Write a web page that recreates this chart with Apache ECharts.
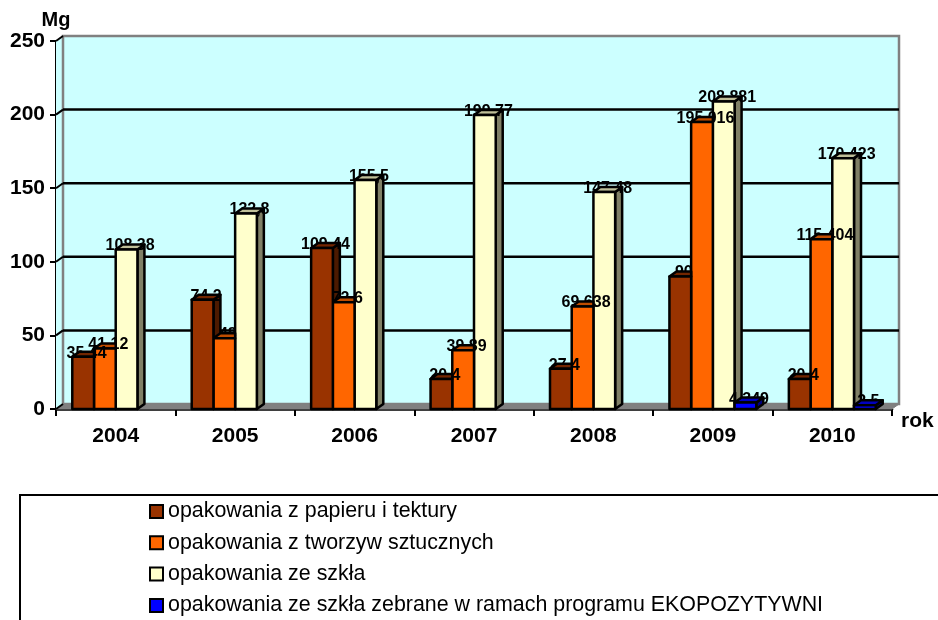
<!DOCTYPE html>
<html>
<head>
<meta charset="utf-8" />
<title>opakowania</title>
<style>
  html, body { margin: 0; padding: 0; background: #ffffff; }
  #chart { width: 938px; height: 620px; }
</style>
</head>
<body>
<div id="chart"></div>
<script src="https://cdn.jsdelivr.net/npm/echarts@6/dist/echarts.min.js"></script>
<script>
var years = ['2004', '2005', '2006', '2007', '2008', '2009', '2010'];
var yTicks = [0, 50, 100, 150, 200, 250];
var papier = [35.44, 74.2, 109.44, 20.4, 27.4, 90, 20.4];
var tworzywa = [41.12, 48, 72.6, 39.89, 69.638, 195.016, 115.404];
var szklo = [108.38, 132.8, 155.5, 199.77, 147.48, 208.881, 170.423];
var ekopozytywni = [null, null, null, null, null, 4.349, 2.5];

var seriesNames = [
  'opakowania z papieru i tektury',
  'opakowania z tworzyw sztucznych',
  'opakowania ze szkła',
  'opakowania ze szkła zebrane w ramach programu EKOPOZYTYWNI'
];
var seriesValues = [papier, tworzywa, szklo, ekopozytywni];
// front, top, side
var seriesColors = [
  ['#993300', '#732600', '#4d1a00'],
  ['#ff6600', '#bf4d00', '#803300'],
  ['#ffffcc', '#bfbf99', '#808066'],
  ['#0000ff', '#0000bf', '#000080']
];

var depthX = 7;
var depthY = 5;
var _font = '"Liberation Sans", Arial, sans-serif';

function fmt(v) {
  return String(v).replace('.', ',');
}

// back wall, floor and gridlines
function renderWall(params, api) {
  var c = params.coordSys;
  var v = api.value(0);
  var y = api.coord([0, v])[1];
  var left = c.x, right = c.x + c.width, top = c.y, bottom = c.y + c.height;
  var children = [];
  if (params.dataIndex === 0) {
    children.push({
      type: 'polygon',
      shape: { points: [[left, bottom], [left + depthX, bottom - depthY], [left + depthX, top - depthY], [left, top]] },
      style: { fill: '#ccffff', stroke: null }
    });
    children.push({
      type: 'rect',
      shape: { x: left + depthX, y: top - depthY, width: c.width, height: c.height },
      style: { fill: '#ccffff', stroke: '#808080', lineWidth: 2.5 }
    });
    children.push({
      type: 'polygon',
      shape: { points: [[left, bottom], [left + depthX, bottom - depthY], [right + depthX, bottom - depthY], [right, bottom]] },
      style: { fill: '#808080', stroke: '#808080', lineWidth: 1 }
    });
  }
  if (v > 0 && v < 250) {
    children.push({
      type: 'line',
      shape: { x1: left + depthX, y1: y - depthY, x2: right + depthX, y2: y - depthY },
      style: { stroke: '#000000', lineWidth: 2.5 }
    });
  }
  children.push({
    type: 'line',
    shape: { x1: left, y1: y, x2: left + depthX, y2: y - depthY },
    style: { stroke: '#000000', lineWidth: 2 }
  });
  return { type: 'group', children: children };
}

// paint order runs from the last series to the first, a label sits under its own bar top
function makeBarRenderer(idx) {
  var last = seriesNames.length - 1;
  // blue label stays readable on top of the glass bar next to it
  var labelZ = idx === last ? 16 : 10 + 3 * (last - idx);
  var frontZ = labelZ + 2;
  var sideZ = idx === last ? frontZ : 6 + 3 * (last - idx);
  return function (params, api) {
    var v = api.value(1);
    if (v === null || isNaN(v)) return null;
    var band = api.size([1, 0])[0];
    var w = band / 5.5;
    var x0 = api.coord([api.value(0), 0])[0] - 2 * w + idx * w;
    var yTop = api.coord([api.value(0), v])[1];
    var yBase = api.coord([api.value(0), 0])[1];
    var col = seriesColors[idx];
    var line = { stroke: '#000000', lineWidth: 2.5, lineJoin: 'round' };
    // the next bar hides the right end of the top face when it is taller
    var next = idx < last ? seriesValues[idx + 1][params.dataIndex] : null;
    var topRight = next !== null && next >= v ? x0 + w : x0 + w + depthX;
    return {
      type: 'group',
      children: [
        {
          type: 'polygon',
          z2: sideZ,
          shape: { points: [[x0 + w, yBase], [x0 + w + depthX, yBase - depthY], [x0 + w + depthX, yTop - depthY], [x0 + w, yTop]] },
          style: Object.assign({ fill: col[2] }, line)
        },
        {
          type: 'polygon',
          z2: frontZ,
          shape: { points: [[x0, yTop], [x0 + depthX, yTop - depthY], [topRight, yTop - depthY], [x0 + w, yTop]] },
          style: Object.assign({ fill: col[1] }, line)
        },
        {
          type: 'rect',
          z2: frontZ,
          shape: { x: x0, y: yTop, width: w, height: yBase - yTop },
          style: Object.assign({ fill: col[0] }, line)
        },
        {
          type: 'text',
          z2: labelZ,
          style: {
            x: x0 + w / 2 + depthX / 2,
            y: yTop - 3.5,
            text: fmt(v),
            align: 'center',
            verticalAlign: 'middle',
            font: 'bold 16px ' + _font,
            fill: '#000000'
          }
        }
      ]
    };
  };
}

var series = [{
  name: 'wall',
  type: 'custom',
  silent: true,
  z: 1,
  clip: false,
  renderItem: renderWall,
  encode: { y: 0 },
  data: yTicks.map(function (t) { return [t]; })
}];

seriesNames.forEach(function (name, i) {
  series.push({
    name: name,
    type: 'custom',
    z: 3,
    clip: false,
    renderItem: makeBarRenderer(i),
    itemStyle: { color: seriesColors[i][0], borderColor: '#000000', borderWidth: 2 },
    encode: { x: 0, y: 1 },
    data: seriesValues[i].map(function (v, j) { return [j, v]; })
  });
});

var myChart = echarts.init(document.getElementById('chart'));
myChart.setOption({
  animation: false,
  backgroundColor: '#ffffff',
  textStyle: { fontFamily: _font },
  grid: { left: 56, top: 41, width: 836, height: 368 },
  legend: {
    data: seriesNames,
    orient: 'vertical',
    left: 144,
    top: 496,
    height: 124,
    icon: 'rect',
    itemWidth: 13,
    itemHeight: 13,
    itemGap: 10.3,
    selectedMode: false,
    textStyle: { fontFamily: _font, fontSize: 21.4, color: '#000000' }
  },
  xAxis: {
    type: 'category',
    data: years,
    name: 'rok',
    nameLocation: 'end',
    nameGap: 9,
    nameTextStyle: { fontFamily: _font, fontWeight: 'bold', fontSize: 21, color: '#000000', verticalAlign: 'top', padding: [2, 0, 0, 0] },
    axisLine: { show: true, lineStyle: { color: '#000000', width: 2.5 } },
    axisTick: { show: true, alignWithLabel: false, length: 7, lineStyle: { color: '#000000', width: 2 } },
    axisLabel: { margin: 17, color: '#000000', fontFamily: _font, fontWeight: 'bold', fontSize: 21 },
    splitLine: { show: false }
  },
  yAxis: {
    type: 'value',
    min: 0,
    max: 250,
    interval: 50,
    name: 'Mg',
    nameLocation: 'end',
    nameGap: 10,
    nameTextStyle: { fontFamily: _font, fontWeight: 'bold', fontSize: 20, color: '#000000' },
    axisLine: { show: true, lineStyle: { color: '#000000', width: 2 } },
    axisTick: { show: true, length: 6, lineStyle: { color: '#000000', width: 2 } },
    axisLabel: { margin: 11, color: '#000000', fontFamily: _font, fontWeight: 'bold', fontSize: 21 },
    splitLine: { show: false }
  },
  graphic: [{
    type: 'rect',
    silent: true,
    z: 0,
    shape: { x: 20, y: 495, width: 940, height: 140 },
    style: { fill: '#ffffff', stroke: '#000000', lineWidth: 2 }
  }],
  series: series
});
</script>
</body>
</html>
